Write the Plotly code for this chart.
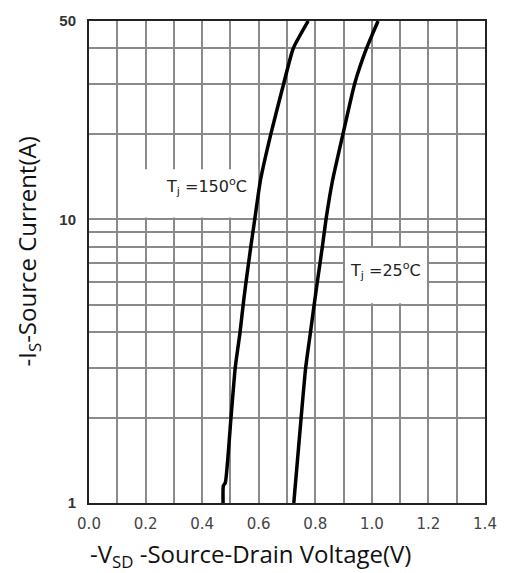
import math
import plotly.graph_objects as go

# Data
v_150 = [0.474, 0.475, 0.482, 0.502, 0.517, 0.534, 0.545, 0.555, 0.572, 0.586, 0.606, 0.643, 0.688, 0.722, 0.775]
i_150 = [1.0, 1.15, 1.18, 2.0, 3.0, 4.0, 5.0, 6.0, 8.0, 10.0, 13.7, 20.0, 30.0, 40.0, 50.0]
v_25 = [0.724, 0.750, 0.766, 0.783, 0.796, 0.807, 0.825, 0.838, 0.861, 0.898, 0.939, 0.981, 1.022]
i_25 = [1.0, 2.0, 3.0, 4.0, 5.0, 6.0, 8.0, 10.0, 13.7, 20.0, 30.0, 40.0, 50.0]

x_ticks = [0.0, 0.2, 0.4, 0.6, 0.8, 1.0, 1.2, 1.4]
x_tick_text = ["0.0", "0.2", "0.4", "0.6", "0.8", "1.0", "1.2", "1.4"]
y_ticks = [1, 10, 50]
y_tick_text = ["1", "10", "50"]
y_minor = [2, 3, 4, 5, 6, 7, 8, 9, 20, 30, 40]

GRID = "#8a8a8a"

fig = go.Figure()
for v, i in [(v_150, i_150), (v_25, i_25)]:
    fig.add_trace(go.Scatter(x=v, y=i, mode="lines",
                             line=dict(color="black", width=3.5, shape="spline", smoothing=0.5),
                             showlegend=False, hoverinfo="skip"))

# white label boxes covering the grid (beneath curves)
fig.add_shape(type="rect", xref="x", yref="y", x0=0.196, x1=0.598, y0=10.15, y1=15.0,
              fillcolor="white", line=dict(width=0), layer="between")
fig.add_shape(type="rect", xref="x", yref="y", x0=0.905, x1=1.195, y0=5.06, y1=7.92,
              fillcolor="white", line=dict(width=0), layer="between")

lab_font = dict(family="DejaVu Sans", size=16, color="#222")
fig.add_annotation(x=0.265, y=math.log10(13.1), xref="x", yref="y", xanchor="left", yanchor="middle",
                   text="T<sub>j</sub> =150<sup>o</sup>C", showarrow=False, font=lab_font)
fig.add_annotation(x=0.915, y=math.log10(6.6), xref="x", yref="y", xanchor="left", yanchor="middle",
                   text="T<sub>j</sub> =25<sup>o</sup>C", showarrow=False, font=lab_font)

fig.add_annotation(x=0.408, y=-0.107, xref="paper", yref="paper", xanchor="center", yanchor="middle",
                   text="-V<sub>SD</sub> -Source-Drain Voltage(V)", showarrow=False,
                   font=dict(family="Open Sans", size=24, color="#111"))
fig.add_annotation(x=-0.155, y=0.521, xref="paper", yref="paper", xanchor="center", yanchor="middle",
                   text="-I<sub>S</sub>-Source Current(A)", showarrow=False,
                   font=dict(family="Open Sans", size=24, color="#111"), textangle=-90)

fig.update_xaxes(range=[0, 1.4], tickmode="array", tickvals=x_ticks, ticktext=x_tick_text,
                 showgrid=True, gridcolor=GRID, gridwidth=1.5,
                 minor=dict(dtick=0.1, showgrid=True, gridcolor=GRID, gridwidth=1.5),
                 showline=True, linecolor="#222", linewidth=2, mirror=True,
                 ticks="", ticklabelstandoff=6,
                 tickfont=dict(family="DejaVu Sans", size=15, color="#444"),
                 zeroline=False, fixedrange=True)
fig.update_yaxes(type="log", range=[0, 1.69897], tickmode="array", tickvals=y_ticks,
                 ticktext=["<b>%s</b>" % t for t in y_tick_text],
                 showgrid=True, gridcolor=GRID, gridwidth=1.5,
                 minor=dict(tickmode="array", tickvals=y_minor, showgrid=True, gridcolor=GRID, gridwidth=1.5),
                 showline=True, linecolor="#222", linewidth=2, mirror=True,
                 ticks="", ticklabelstandoff=8,
                 tickfont=dict(family="Liberation Sans", size=15, color="#333"),
                 zeroline=False, fixedrange=True)

fig.update_layout(width=509, height=573, margin=dict(l=89, r=16, t=21, b=70),
                  plot_bgcolor="white", paper_bgcolor="white")

fig.write_html("out.html")
